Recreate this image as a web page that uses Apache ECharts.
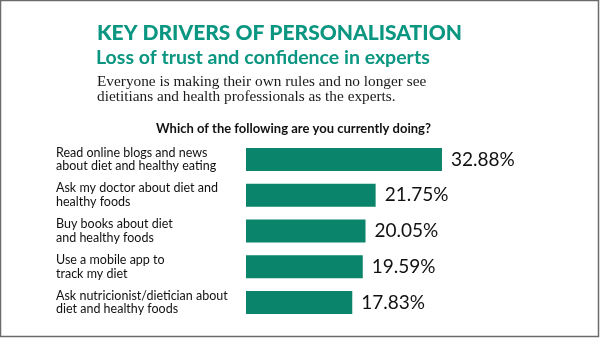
<!DOCTYPE html>
<html>
<head>
<meta charset="utf-8">
<script src="https://cdn.jsdelivr.net/npm/echarts@6/dist/echarts.min.js"></script>
<style>
  html, body { margin: 0; padding: 0; background: #fff; }
  #chart { width: 600px; height: 338px; }
</style>
</head>
<body>
<div id="chart"></div>
<script>
// Survey answers, top to bottom
const categories = [
  'Read online blogs and news\nabout diet and healthy eating',
  'Ask my doctor about diet and\nhealthy foods',
  'Buy books about diet\nand healthy foods',
  'Use a mobile app to\ntrack my diet',
  'Ask nutricionist/dietician about\ndiet and healthy foods'
];
// Share of respondents (%)
const shares = [32.88, 21.75, 20.05, 19.59, 17.83];

const titleText = 'KEY DRIVERS OF PERSONALISATION';
const subtitleText = 'Loss of trust and confidence in experts';
const introLines = [
  'Everyone is making their own rules and no longer see',
  'dietitians and health professionals as the experts.'
];
const questionText = 'Which of the following are you currently doing?';

const teal = '#0a9680';
const barColor = '#0a846a';
const sans = 'Lato, "Noto Sans", sans-serif';
const serif = '"Liberation Serif", "DejaVu Serif", serif';

const chart = echarts.init(document.getElementById('chart'), null, { renderer: 'canvas' });

chart.setOption({
  backgroundColor: '#ffffff',
  animation: false,
  grid: { left: 246, right: 56, top: 141.5, bottom: 17.5, containLabel: false },
  xAxis: {
    type: 'value',
    min: 0,
    max: 50,
    show: false
  },
  yAxis: {
    type: 'category',
    data: categories,
    inverse: true,
    axisLine: { show: false },
    axisTick: { show: false },
    splitLine: { show: false },
    axisLabel: {
      align: 'left',
      margin: 190,
      fontFamily: sans,
      fontSize: 12.5,
      lineHeight: 13.5,
      color: '#111'
    }
  },
  series: [{
    type: 'bar',
    data: shares,
    barWidth: 23,
    itemStyle: { color: barColor },
    label: {
      show: true,
      position: 'right',
      distance: 9,
      fontFamily: sans,
      fontSize: 19,
      color: '#111',
      formatter: p => p.value.toFixed(2) + '%'
    }
  }],
  graphic: [
    {
      type: 'rect',
      shape: { x: 0.5, y: 0.5, width: 598, height: 336 },
      style: { fill: 'none', stroke: '#6b6b6b', lineWidth: 1.5 },
      silent: true
    },
    {
      type: 'text',
      style: {
        text: titleText, x: 97, y: 33.5,
        font: '900 21px ' + sans, fill: teal,
        verticalAlign: 'middle', align: 'left'
      }
    },
    {
      type: 'text',
      style: {
        text: subtitleText, x: 96, y: 58,
        font: 'bold 19.5px ' + sans, fill: teal,
        verticalAlign: 'middle', align: 'left'
      }
    },
    {
      type: 'text',
      style: {
        text: introLines[0], x: 97, y: 81.5,
        font: '15.3px ' + serif, fill: '#1a1a1a',
        verticalAlign: 'middle', align: 'left'
      }
    },
    {
      type: 'text',
      style: {
        text: introLines[1], x: 97, y: 97,
        font: '15.3px ' + serif, fill: '#1a1a1a',
        verticalAlign: 'middle', align: 'left'
      }
    },
    {
      type: 'text',
      style: {
        text: questionText, x: 156, y: 128.5,
        font: 'bold 13px ' + sans, fill: '#111',
        verticalAlign: 'middle', align: 'left'
      }
    }
  ]
});
</script>
</body>
</html>
